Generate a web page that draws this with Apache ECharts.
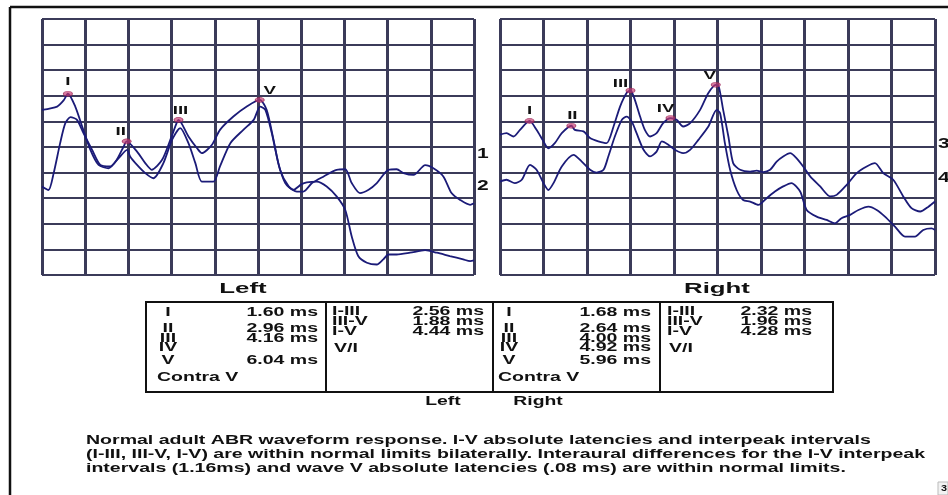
<!DOCTYPE html>
<html>
<head>
<meta charset="utf-8">
<title>ABR waveform response</title>
<script src="https://cdn.jsdelivr.net/npm/echarts@6/dist/echarts.min.js"></script>
<style>
  html, body { margin: 0; padding: 0; background: #fff; }
  #chart { width: 948px; height: 495px; }
</style>
</head>
<body>
<div id="chart"></div>
<script>
// ---- recorded traces: [time (ms), amplitude (divisions)] ----
const leftUpper = [
  [1.00, 6.45], [1.35, 6.58], [1.50, 6.82], [1.60, 7.08], [1.77, 6.58], [1.93, 5.80],
  [2.12, 4.89], [2.31, 4.30], [2.54, 4.17], [2.73, 4.50], [2.89, 5.02], [2.96, 5.22],
  [3.20, 4.82], [3.39, 4.37], [3.54, 4.11], [3.78, 4.50], [3.97, 5.28], [4.12, 5.95],
  [4.16, 6.06], [4.39, 5.41], [4.59, 4.95], [4.70, 4.76], [4.93, 5.08], [5.12, 5.67],
  [5.43, 6.19], [5.74, 6.58], [6.04, 6.84], [6.20, 6.45], [6.36, 5.28], [6.51, 4.11],
  [6.71, 3.46], [6.90, 3.26], [7.05, 3.26], [7.25, 3.59], [7.52, 3.85], [7.82, 4.11],
  [8.02, 4.13], [8.17, 3.59], [8.36, 3.20], [8.56, 3.33], [8.75, 3.59], [9.02, 4.11],
  [9.21, 4.13], [9.37, 3.98], [9.60, 3.91], [9.87, 4.29], [10.06, 4.17], [10.29, 3.85],
  [10.48, 3.20], [10.68, 2.93], [10.91, 2.74], [11.00, 2.80]
];
const leftLower = [
  [1.00, 3.46], [1.15, 3.32], [1.27, 3.98], [1.42, 5.15], [1.54, 5.93], [1.66, 6.17],
  [1.81, 6.06], [1.96, 5.54], [2.16, 4.89], [2.35, 4.30], [2.58, 4.24], [2.77, 4.56],
  [2.97, 4.89], [3.04, 4.63], [3.20, 4.30], [3.39, 3.98], [3.58, 3.78], [3.81, 4.37],
  [4.01, 5.28], [4.20, 5.74], [4.39, 5.15], [4.55, 4.37], [4.70, 3.65], [4.97, 3.65],
  [5.12, 4.24], [5.36, 5.15], [5.66, 5.67], [5.90, 6.06], [6.05, 6.58], [6.17, 6.45],
  [6.32, 5.54], [6.47, 4.37], [6.63, 3.59], [6.82, 3.33], [7.01, 3.55], [7.13, 3.62],
  [7.36, 3.65], [7.59, 3.46], [7.82, 3.07], [8.02, 2.54], [8.17, 1.50], [8.32, 0.74],
  [8.52, 0.48], [8.75, 0.41], [8.90, 0.61], [9.02, 0.80], [9.21, 0.80], [9.52, 0.87],
  [9.87, 0.97], [10.14, 0.87], [10.44, 0.74], [10.75, 0.61], [10.91, 0.54], [11.00, 0.57]
];
const rightUpper = [
  [1.00, 5.48], [1.15, 5.54], [1.31, 5.41], [1.46, 5.67], [1.68, 6.02], [1.84, 5.67],
  [2.00, 5.22], [2.11, 4.95], [2.26, 5.15], [2.42, 5.54], [2.64, 5.83], [2.72, 5.67],
  [2.92, 5.61], [3.07, 5.35], [3.26, 5.22], [3.45, 5.15], [3.61, 5.80], [3.76, 6.58],
  [3.91, 7.11], [4.00, 7.21], [4.10, 6.84], [4.22, 6.19], [4.33, 5.67], [4.45, 5.41],
  [4.60, 5.54], [4.75, 5.93], [4.92, 6.13], [5.06, 6.06], [5.21, 5.80], [5.37, 5.93],
  [5.60, 6.45], [5.79, 7.11], [5.96, 7.43], [6.03, 7.35], [6.13, 6.45], [6.25, 5.41],
  [6.36, 4.37], [6.52, 4.11], [6.75, 4.04], [6.90, 4.08], [7.05, 4.02], [7.21, 4.11],
  [7.36, 4.43], [7.51, 4.63], [7.67, 4.76], [7.82, 4.56], [7.97, 4.24], [8.13, 3.85],
  [8.36, 3.46], [8.59, 3.07], [8.74, 3.13], [8.97, 3.52], [9.20, 3.98], [9.43, 4.24],
  [9.62, 4.37], [9.81, 3.98], [10.04, 3.72], [10.27, 3.07], [10.46, 2.61], [10.66, 2.48],
  [10.85, 2.67], [11.00, 2.87]
];
const rightLower = [
  [1.00, 3.65], [1.15, 3.72], [1.34, 3.59], [1.50, 3.72], [1.69, 4.30], [1.84, 4.11],
  [2.00, 3.59], [2.11, 3.32], [2.23, 3.59], [2.42, 4.24], [2.69, 4.69], [2.88, 4.43],
  [3.07, 4.11], [3.22, 4.00], [3.38, 4.11], [3.49, 4.63], [3.64, 5.41], [3.80, 6.06],
  [3.91, 6.19], [4.03, 5.99], [4.14, 5.54], [4.30, 4.89], [4.45, 4.63], [4.60, 4.82],
  [4.72, 5.22], [4.87, 5.09], [5.02, 4.89], [5.21, 4.76], [5.37, 4.89], [5.56, 5.28],
  [5.79, 5.80], [5.98, 6.45], [6.06, 6.32], [6.17, 5.15], [6.29, 4.11], [6.44, 3.32],
  [6.59, 2.93], [6.75, 2.87], [6.94, 2.74], [7.13, 3.00], [7.32, 3.26], [7.51, 3.46],
  [7.70, 3.59], [7.90, 3.26], [8.05, 2.54], [8.28, 2.28], [8.51, 2.15], [8.70, 2.02],
  [8.85, 2.22], [9.05, 2.35], [9.24, 2.54], [9.47, 2.67], [9.66, 2.54], [9.85, 2.28],
  [10.08, 1.89], [10.31, 1.50], [10.54, 1.50], [10.73, 1.76], [10.92, 1.82], [11.00, 1.76]
];

// ---- latencies and interpeak intervals (ms) ----
const waveNames = ['I', 'II', 'III', 'IV', 'V'];
const leftLatency = [1.60, 2.96, 4.16, null, 6.04];
const rightLatency = [1.68, 2.64, 4.00, 4.92, 5.96];
const intervalNames = ['I-III', 'III-V', 'I-V'];
const leftInterpeak = [2.56, 1.88, 4.44];
const rightInterpeak = [2.32, 1.96, 4.28];

// trace numbers shown at the right edge of each panel: [name, level]
const leftTraceTags = [['1', 4.74], ['2', 3.49]];
const rightTraceTags = [['3', 5.13], ['4', 3.80]];

const captionLines = [
  'Normal adult ABR waveform response. I-V absolute latencies and interpeak intervals',
  '(I-III, III-V, I-V) are within normal limits bilaterally. Interaural differences for the I-V interpeak',
  'intervals (1.16ms) and wave V absolute latencies (.08 ms) are within normal limits.'
];

// ---- styling ----
const GRID_C = '#3b3b59';
const TRACE_C = '#1b1b78';
const PEAK_C = 'rgba(196,58,112,0.85)';
const FONT = '"Liberation Sans", Arial, sans-serif';
const SX = 1.5; // horizontal stretch of the printed lettering

const panels = [
  { left: 42, top: 19, width: 432, height: 256 },
  { left: 500, top: 19, width: 435, height: 256 }
];

const chart = echarts.init(document.getElementById('chart'), null, { renderer: 'canvas' });

function axisPair(i) {
  return {
    x: {
      type: 'value', gridIndex: i, min: 1, max: 11, interval: 1,
      axisLabel: { show: false }, axisTick: { show: false }, axisLine: { show: false },
      splitLine: { show: true, showMinLine: true, showMaxLine: true, lineStyle: { color: GRID_C, width: 3 } }
    },
    y: {
      type: 'value', gridIndex: i, min: 0, max: 10, interval: 1,
      axisLabel: { show: false }, axisTick: { show: false }, axisLine: { show: false },
      splitLine: { show: true, showMinLine: true, showMaxLine: true, lineStyle: { color: GRID_C, width: 2.2 } }
    }
  };
}
const ax0 = axisPair(0), ax1 = axisPair(1);

function trace(data, i) {
  return {
    type: 'line', xAxisIndex: i, yAxisIndex: i, data: data,
    showSymbol: false, smooth: 0.25, z: 3, silent: true,
    lineStyle: { color: TRACE_C, width: 1.8 }
  };
}
function peakPoints(latency, data) {
  const pts = [];
  latency.forEach(function (t) {
    if (t == null) return;
    const p = data.find(function (d) { return Math.abs(d[0] - t) < 1e-6; });
    if (p) pts.push([p[0], p[1]]);
  });
  return pts;
}
const leftPeaks = peakPoints(leftLatency, leftUpper);
const rightPeaks = peakPoints(rightLatency, rightUpper);

function peakSeries(pts, i) {
  return {
    type: 'scatter', xAxisIndex: i, yAxisIndex: i, data: pts, z: 4, silent: true,
    symbol: 'circle', symbolSize: [9, 5],
    itemStyle: { color: PEAK_C, borderColor: 'rgba(150,30,80,0.9)', borderWidth: 0.8 }
  };
}

chart.setOption({
  animation: false,
  backgroundColor: '#ffffff',
  grid: panels.map(function (p) { return Object.assign({ containLabel: false }, p); }),
  xAxis: [ax0.x, ax1.x],
  yAxis: [ax0.y, ax1.y],
  series: [
    trace(leftLower, 0), trace(leftUpper, 0),
    trace(rightLower, 1), trace(rightUpper, 1),
    peakSeries(leftPeaks, 0), peakSeries(rightPeaks, 1)
  ]
});

// ---- lettering ----
function txt(x, y, s, size, align, sx) {
  return {
    type: 'text', x: x, y: y, scaleX: sx || SX, z: 10, silent: true,
    style: {
      text: s, x: 0, y: 0, font: 'bold ' + size + 'px ' + FONT, fill: '#111',
      align: align || 'left', textAlign: align || 'left',
      verticalAlign: 'middle', textVerticalAlign: 'middle'
    }
  };
}
function line(x1, y1, x2, y2, w, c) {
  return { type: 'line', silent: true, z: 9, shape: { x1: x1, y1: y1, x2: x2, y2: y2 },
           style: { stroke: c || '#111', lineWidth: w } };
}

const g = [];
// page frame
g.push(line(10, 7, 948, 7, 2.5));
g.push(line(10, 7, 10, 495, 2.5));

// wave labels next to the marked peaks (offsets in pixels)
const leftTagOffset = [[0, -12], [-6, -9], [2, -9], null, [10, -9]];
const rightTagOffset = [[0, -10], [1, -10], [-10, -6], [-5, -9], [-6, -9]];
function peakTags(latency, data, offsets, gi) {
  latency.forEach(function (t, k) {
    if (t == null) return;
    const p = data.find(function (d) { return Math.abs(d[0] - t) < 1e-6; });
    const px = chart.convertToPixel({ gridIndex: gi }, p);
    g.push(txt(px[0] + offsets[k][0], px[1] + offsets[k][1], waveNames[k], 11, 'center', 1.7));
  });
}
peakTags(leftLatency, leftUpper, leftTagOffset, 0);
peakTags(rightLatency, rightUpper, rightTagOffset, 1);

// trace numbers
function traceTags(tags, gi) {
  tags.forEach(function (tg) {
    const px = chart.convertToPixel({ gridIndex: gi }, [11, tg[1]]);
    g.push(txt(px[0] + 3, px[1], tg[0], 14, 'left', 1.5));
  });
}
traceTags(leftTraceTags, 0);
traceTags(rightTraceTags, 1);

// panel titles
g.push(txt(243, 289, 'Left', 15, 'center', 1.72));
g.push(txt(717, 289, 'Right', 15, 'center', 1.72));

// results table
const tb = { x0: 146, x1: 833, y0: 302, y1: 392, cols: [326, 493, 660] };
g.push({ type: 'rect', silent: true, z: 8, shape: { x: tb.x0, y: tb.y0, width: tb.x1 - tb.x0, height: tb.y1 - tb.y0 },
         style: { fill: '#fff', stroke: '#111', lineWidth: 2 } });
tb.cols.forEach(function (cx) { g.push(line(cx, tb.y0, cx, tb.y1, 2)); });

const waveRowY = [312, 328, 338.5, 347.5, 360];
const intRowY = [311, 321, 331.5];
function fmt(v) { return v.toFixed(2) + ' ms'; }
function latencyColumn(latency, nameX, valX, contraX) {
  waveNames.forEach(function (n, k) {
    g.push(txt(nameX, waveRowY[k], n, 13, 'center'));
    if (latency[k] != null) g.push(txt(valX, waveRowY[k], fmt(latency[k]), 13, 'right'));
  });
  g.push(txt(contraX, 377.5, 'Contra V', 13, 'left'));
}
function intervalColumn(vals, nameX, valX) {
  intervalNames.forEach(function (n, k) {
    g.push(txt(nameX, intRowY[k], n, 13, 'left'));
    g.push(txt(valX, intRowY[k], fmt(vals[k]), 13, 'right'));
  });
  g.push(txt(nameX + 2, 348, 'V/I', 13, 'left'));
}
latencyColumn(leftLatency, 168, 318, 157);
intervalColumn(leftInterpeak, 332, 484);
latencyColumn(rightLatency, 509, 651, 498);
intervalColumn(rightInterpeak, 667, 812);

g.push(txt(443, 402, 'Left', 12.5, 'center', 1.55));
g.push(txt(538, 402, 'Right', 12.5, 'center', 1.55));

// caption
const CAP_SIZE = 13;
const meas = document.createElement('canvas').getContext('2d');
meas.font = 'bold ' + CAP_SIZE + 'px ' + FONT;
const capScale = (925 - 86) / meas.measureText(captionLines[1]).width;
captionLines.forEach(function (s, k) {
  g.push(txt(86, 440 + k * 14, s, CAP_SIZE, 'left', capScale));
});

// page number tab
g.push({ type: 'rect', silent: true, z: 8, shape: { x: 938, y: 482, width: 10, height: 13 },
         style: { fill: '#f2f2f2', stroke: '#bbb', lineWidth: 1 } });
g.push(txt(941, 489, '3', 9, 'left', 1.2));

chart.setOption({ graphic: { elements: g } });
</script>
</body>
</html>
